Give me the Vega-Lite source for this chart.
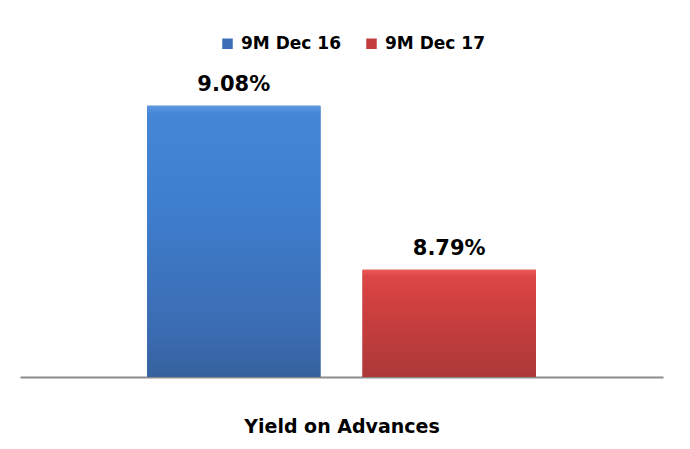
{
  "$schema": "https://vega.github.io/schema/vega-lite/v6.json",
  "autosize": {"type": "none"},
  "width": 643,
  "height": 339,
  "padding": {"left": 20, "top": 38, "right": 27, "bottom": 72},
  "background": "white",
  "config": {"view": {"stroke": null}, "font": "DejaVu Sans"},
  "data": {"values": [
    {"series": "9M Dec 16", "value": 9.08, "label": "9.08%"},
    {"series": "9M Dec 17", "value": 8.79, "label": "8.79%"}
  ]},
  "encoding": {
    "x": {"field": "series", "type": "nominal", "sort": null,
      "scale": {"paddingInner": 0.195, "paddingOuter": 0.59},
      "axis": {"title": "Yield on Advances", "labels": false, "ticks": false,
        "domainColor": "#8c8c8c", "domainWidth": 2,
        "titleFont": "DejaVu Sans", "titleFontSize": 19, "titleFontWeight": "bold",
        "titleColor": "#000000", "titlePadding": 40}},
    "y": {"field": "value", "type": "quantitative",
      "scale": {"domain": [8.6, 9.2], "zero": false, "nice": false},
      "axis": null}
  },
  "layer": [
    {
      "mark": {"type": "bar"},
      "encoding": {
        "y2": {"datum": 8.6},
        "color": {"field": "series", "type": "nominal",
          "scale": {"domain": ["9M Dec 16", "9M Dec 17"], "range": ["#3a6fb8", "#c23c3c"]},
          "legend": {"title": null, "orient": "none", "direction": "horizontal",
            "legendX": 199, "legendY": -3, "symbolType": "square", "symbolSize": 110,
            "labelFont": "DejaVu Sans", "labelFontSize": 17, "labelFontWeight": "bold",
            "labelColor": "#000000", "labelOffset": 5, "columnPadding": 22, "symbolStrokeWidth": 0}}
      }
    },
    {
      "mark": {"type": "bar"},
      "encoding": {
        "y2": {"datum": 8.6},
        "fill": {
          "condition": {"test": "datum.series === '9M Dec 16'",
            "value": {"gradient": "linear", "x1": 0, "y1": 0, "x2": 0, "y2": 1,
              "stops": [{"offset": 0, "color": "#5a98e0"}, {"offset": 0.03, "color": "#4686d6"}, {"offset": 0.35, "color": "#3f7fcf"}, {"offset": 0.85, "color": "#3a6bb0"}, {"offset": 1, "color": "#35629e"}]}},
          "value": {"gradient": "linear", "x1": 0, "y1": 0, "x2": 0, "y2": 1,
            "stops": [{"offset": 0, "color": "#ee5a5a"}, {"offset": 0.06, "color": "#dc4646"}, {"offset": 0.3, "color": "#d04040"}, {"offset": 1, "color": "#ad3838"}]}
        }
      }
    },
    {
      "mark": {"type": "text", "baseline": "bottom", "dy": -11, "font": "DejaVu Sans", "fontSize": 21, "fontWeight": "bold", "color": "#000000"},
      "encoding": {"text": {"field": "label"}}
    }
  ]
}
